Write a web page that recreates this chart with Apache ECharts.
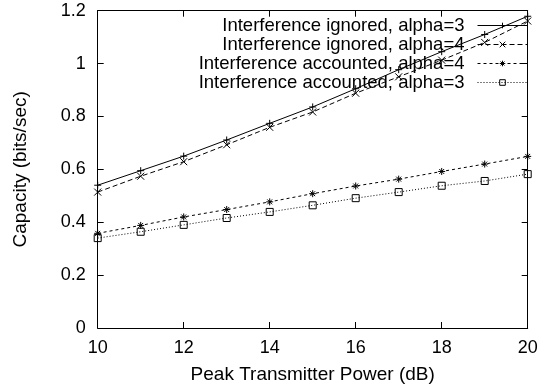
<!DOCTYPE html>
<html>
<head>
<meta charset="utf-8">
<script src="https://cdn.jsdelivr.net/npm/echarts@6/dist/echarts.min.js"></script>
<style>
html,body{margin:0;padding:0;background:#fff;}
#chart{width:542px;height:389px;}
</style>
</head>
<body>
<div id="chart"></div>
<script>
const powerDb = [10, 11, 12, 13, 14, 15, 16, 17, 18, 19, 20];
const ignoredAlpha3 = [0.540, 0.595, 0.650, 0.711, 0.774, 0.836, 0.905, 0.977, 1.045, 1.110, 1.179];
const ignoredAlpha4 = [0.514, 0.574, 0.629, 0.693, 0.759, 0.817, 0.888, 0.950, 1.013, 1.080, 1.161];
const accountedAlpha4 = [0.358, 0.388, 0.420, 0.448, 0.477, 0.508, 0.537, 0.563, 0.592, 0.620, 0.649];
const accountedAlpha3 = [0.340, 0.364, 0.390, 0.416, 0.439, 0.464, 0.491, 0.514, 0.538, 0.556, 0.582];
const seriesNames = [
  'Interference ignored, alpha=3',
  'Interference ignored, alpha=4',
  'Interference accounted, alpha=4',
  'Interference accounted, alpha=3'
];
const xTitle = 'Peak Transmitter Power (dB)';
const yTitle = 'Capacity (bits/sec)';

const FONT = '"Liberation Sans", Arial, Helvetica, sans-serif';
const pairs = arr => powerDb.map((x, i) => [x, arr[i]]);

function mkSeries(name, data, symbol, dash) {
  return {
    name: name,
    type: 'line',
    data: pairs(data),
    symbol: symbol,
    symbolSize: 7,
    showSymbol: true,
    animation: false,
    lineStyle: { color: '#000', width: 1, type: dash },
    itemStyle: { color: 'rgba(0,0,0,0)', borderColor: '#000', borderWidth: 1 },
    emphasis: { disabled: true }
  };
}

const chart = echarts.init(document.getElementById('chart'), null, { renderer: 'canvas' });
const axisLine = { show: true, onZero: false, lineStyle: { color: '#000', width: 1 } };
const tick = { show: true, inside: true, length: 6, lineStyle: { color: '#000', width: 1 } };
chart.setOption({
  animation: false,
  backgroundColor: '#fff',
  textStyle: { fontFamily: FONT },
  grid: { left: 97.7, right: 14.3, top: 10.7, bottom: 59.6, containLabel: false },
  legend: {
    orient: 'vertical',
    right: 14,
    top: 16,
    align: 'right',
    padding: 0,
    itemGap: 0,
    itemWidth: 50,
    itemHeight: 7,
    selectedMode: false,
    lineStyle: { width: 1, color: '#000' },
    itemStyle: { color: 'rgba(0,0,0,0)', borderColor: '#000', borderWidth: 1 },
    textStyle: { fontFamily: FONT, fontSize: 18.5, color: '#000', padding: [0, 8, 0, 0] },
    data: seriesNames
  },
  xAxis: [{
    type: 'value', min: 10, max: 20, interval: 2, position: 'bottom',
    name: xTitle, nameLocation: 'middle', nameGap: 37,
    nameTextStyle: { fontFamily: FONT, fontSize: 19, color: '#000' },
    axisLine: axisLine, axisTick: tick, splitLine: { show: false },
    axisLabel: { fontFamily: FONT, fontSize: 18, color: '#000', margin: 11 }
  }, {
    type: 'value', min: 10, max: 20, interval: 2, position: 'top',
    axisLine: axisLine, axisTick: tick, splitLine: { show: false },
    axisLabel: { show: false }
  }],
  yAxis: [{
    type: 'value', min: 0, max: 1.2, interval: 0.2, position: 'left',
    name: yTitle, nameLocation: 'middle', nameGap: 67,
    nameTextStyle: { fontFamily: FONT, fontSize: 19, color: '#000' },
    axisLine: axisLine, axisTick: tick, splitLine: { show: false },
    axisLabel: { fontFamily: FONT, fontSize: 18, color: '#000', margin: 12 }
  }, {
    type: 'value', min: 0, max: 1.2, interval: 0.2, position: 'right',
    axisLine: axisLine, axisTick: tick, splitLine: { show: false },
    axisLabel: { show: false }
  }],
  series: [
    mkSeries(seriesNames[0], ignoredAlpha3, 'path://M0,5L10,5M5,0L5,10', 'solid'),
    mkSeries(seriesNames[1], ignoredAlpha4, 'path://M0,0L10,10M10,0L0,10', [5, 3]),
    mkSeries(seriesNames[2], accountedAlpha4, 'path://M0,5L10,5M5,0L5,10M1.5,1.5L8.5,8.5M8.5,1.5L1.5,8.5', [3, 3]),
    mkSeries(seriesNames[3], accountedAlpha3, 'rect', [1, 2])
  ]
});
</script>
</body>
</html>
